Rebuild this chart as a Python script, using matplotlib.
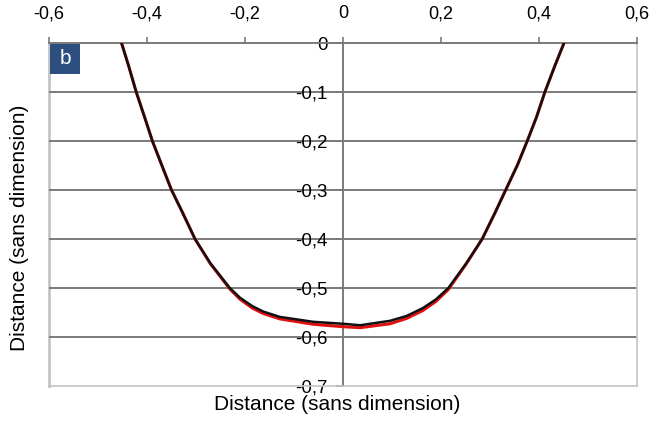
import numpy as np
import matplotlib
matplotlib.use("Agg")
import matplotlib.pyplot as plt
from matplotlib.patches import Rectangle

plt.rcParams['font.family'] = ['Liberation Sans', 'DejaVu Sans']

# black curve
x_black = [-0.452, -0.438, -0.422, -0.405, -0.389, -0.370, -0.350, -0.327,
           -0.302, -0.271, -0.231, -0.210, -0.185, -0.163, -0.129, -0.061, 0.0,
           0.035, 0.096, 0.130, 0.163, 0.190, 0.215, 0.252, 0.284, 0.310,
           0.332, 0.356, 0.376, 0.395, 0.412, 0.433, 0.451]
y_black = [0.0, -0.045, -0.1, -0.151, -0.2, -0.249, -0.3, -0.347,
           -0.4, -0.449, -0.5, -0.520, -0.537, -0.548, -0.559, -0.569, -0.573,
           -0.576, -0.567, -0.557, -0.541, -0.523, -0.5, -0.449, -0.4, -0.347,
           -0.3, -0.249, -0.2, -0.151, -0.1, -0.045, 0.0]

# red curve, mostly hidden under the black one
x_red = x_black
y_red = [0.0, -0.045, -0.1, -0.151, -0.2, -0.249, -0.3, -0.347,
         -0.4, -0.450, -0.502, -0.523, -0.541, -0.552, -0.563, -0.574, -0.579,
         -0.581, -0.573, -0.562, -0.546, -0.527, -0.503, -0.450, -0.4, -0.347,
         -0.3, -0.249, -0.2, -0.151, -0.1, -0.045, 0.0]

x_ticks = [-0.6, -0.4, -0.2, 0.0, 0.2, 0.4, 0.6]
y_ticks = [0.0, -0.1, -0.2, -0.3, -0.4, -0.5, -0.6, -0.7]
axis_label = "Distance (sans dimension)"
panel_letter = "b"


def fr(v):
    s = "%.1f" % v
    if s in ("0.0", "-0.0"):
        return "0"
    return s.replace(".", ",")


fig = plt.figure(figsize=(6.64, 4.42), dpi=100)
ax = fig.add_axes([49 / 664, 1 - 386 / 442, 588 / 664, 343 / 442])

dark = '#7a7a7a'
light = '#c4c4c4'

ax.set_xlim(-0.6, 0.6)
ax.set_ylim(-0.7, 0.0)

# horizontal grid
for yv in y_ticks[1:-1]:
    ax.axhline(yv, color=dark, lw=1.4, zorder=1)

ax.plot(x_red, y_red, color='#e01010', lw=2.2, zorder=3)
ax.plot(x_black, y_black, color='#111111', lw=1.8, zorder=4)

# x axis on top
ax.xaxis.tick_top()
ax.set_xticks(x_ticks)
ax.set_xticklabels([fr(v) for v in x_ticks], fontsize=13)
ax.tick_params(axis='x', direction='out', length=4, width=1.2, color=dark, pad=11)

# y axis through x = 0
ax.spines['left'].set_position(('data', 0))
ax.spines['left'].set_color(dark)
ax.spines['left'].set_linewidth(1.4)
ax.spines['left'].set_zorder(2)
ax.set_yticks(y_ticks)
ax.set_yticklabels([fr(v) for v in y_ticks], fontsize=13.5)
ax.tick_params(axis='y', direction='out', length=5, width=1.2, color=dark, pad=6)

ax.spines['top'].set_color(dark)
ax.spines['top'].set_linewidth(1.4)
for side in ('bottom', 'right'):
    ax.spines[side].set_color(light)
    ax.spines[side].set_linewidth(1.2)
ax.axvline(-0.6, color=light, lw=2.0, clip_on=False, zorder=0)

# panel letter box
ax.add_patch(Rectangle((50 / 664, 1 - 74 / 442), 30 / 664, 30 / 442,
                       transform=fig.transFigure, facecolor='#2c4f7f',
                       edgecolor='none', zorder=5))
fig.text(65 / 664, 1 - 59 / 442, panel_letter, color='white', fontsize=15,
         ha='center', va='center', zorder=6)

fig.text(337 / 664, 1 - 405 / 442, axis_label, fontsize=15, ha='center', va='center')
fig.text(20 / 664, 1 - 228 / 442, axis_label, fontsize=15, ha='center', va='center',
         rotation=90)

fig.savefig("out.png", dpi=100)
